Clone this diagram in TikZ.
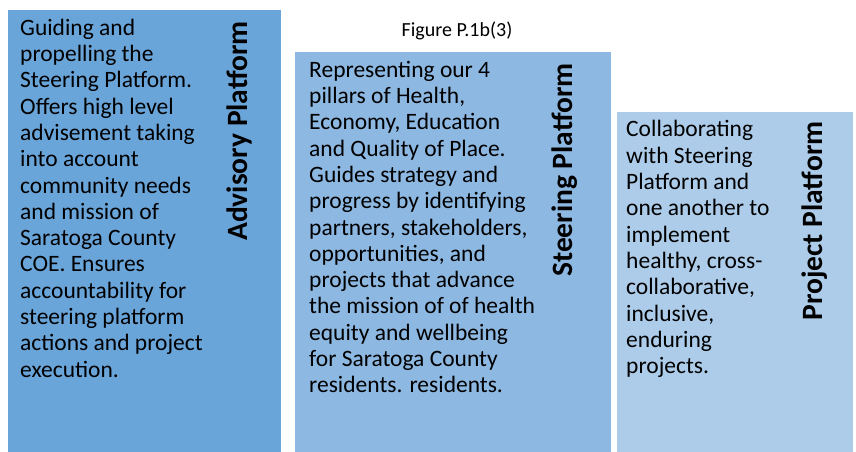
\documentclass[tikz,border=0pt]{standalone}
\usepackage{fontspec}
\setmainfont{Carlito}
\definecolor{advblue}{HTML}{6AA5DA}
\definecolor{steerblue}{HTML}{8DB8E2}
\definecolor{projblue}{HTML}{ADCCEA}
\begin{document}
\begin{tikzpicture}[x=1pt,y=-1pt,
  bodytext/.style={anchor=north west,inner sep=0pt,align=left,
    font=\fontsize{23.5}{26.3}\selectfont},
  sidelabel/.style={anchor=base,inner sep=0pt,rotate=90,
    font=\fontsize{29.5}{32}\selectfont\bfseries}]
\useasboundingbox (0,0) rectangle (856,452);
\fill[white] (0,0) rectangle (856,452);
% the three platform panels
\fill[advblue] (8,10) rectangle (281,452);
\fill[steerblue] (295,52) rectangle (611,452);
\fill[projblue] (617,112) rectangle (853,452);
% caption
\node[anchor=base,inner sep=0pt,font=\fontsize{20}{24}\selectfont] (caption) at (457,37) {Figure P.1b(3)};
% descriptions
\node[bodytext] (advtext) at (20,16.6) {\strut Guiding and\\propelling the\\Steering Platform.\\Offers high level\\advisement taking\\into account\\community needs\\and mission of\\Saratoga County\\COE. Ensures\\accountability for\\steering platform\\actions and project\\execution.};
\node[bodytext] (steertext) at (309,58.6) {\strut Representing our 4\\pillars of Health,\\Economy, Education\\and Quality of Place.\\Guides strategy and\\progress by identifying\\partners, stakeholders,\\opportunities, and\\projects that advance\\the mission of of health\\equity and wellbeing\\for Saratoga County\\residents. residents.};
\node[bodytext] (projtext) at (626,118.3) {\strut Collaborating\\with Steering\\Platform and\\one another to\\implement\\healthy, cross-\\collaborative,\\inclusive,\\enduring\\projects.};
% rotated titles
\node[sidelabel] (advlabel) at (247,131) {Advisory Platform};
\node[sidelabel] (steerlabel) at (572,170) {Steering Platform};
\node[sidelabel] (projlabel) at (822,221) {Project Platform};
\end{tikzpicture}
\end{document}
